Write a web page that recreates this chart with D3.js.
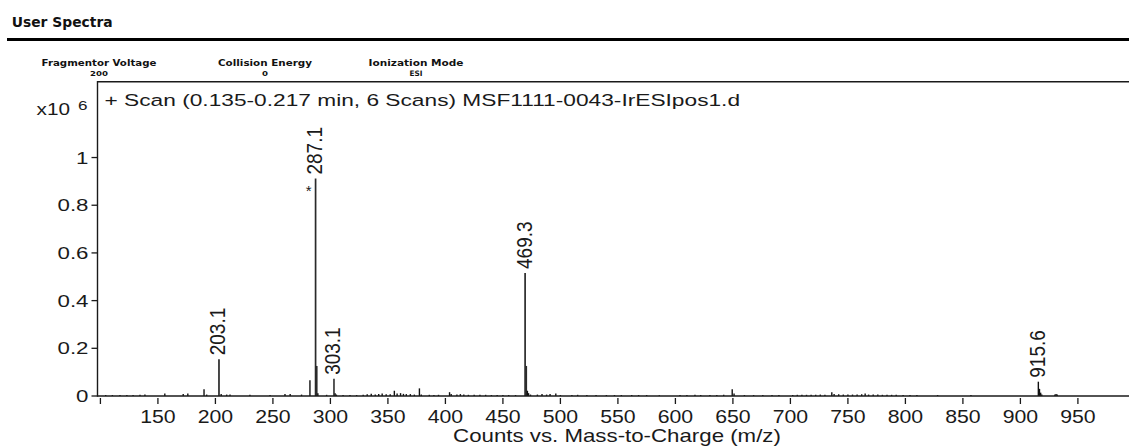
<!DOCTYPE html>
<html>
<head>
<meta charset="utf-8">
<script src="https://cdn.jsdelivr.net/npm/d3@7"></script>
<style>
  html, body { margin: 0; padding: 0; background: #fff; }
  svg { display: block; }
</style>
</head>
<body>
<svg id="chart" width="1129" height="447"></svg>
<script>
// ---------------- DATA ----------------
const headerTitle = "User Spectra";
const paramNames  = ["Fragmentor Voltage", "Collision Energy", "Ionization Mode"];
const paramValues = ["200", "0", "ESI"];
const scanTitle = "+ Scan (0.135-0.217 min, 6 Scans) MSF1111-0043-IrESIpos1.d";
const yExponentBase = "x10";
const yExponent = "6";
const xAxisTitle = "Counts vs. Mass-to-Charge (m/z)";

const yTicks = [0, 0.2, 0.4, 0.6, 0.8, 1];
const yTickLabels = ["0", "0.2", "0.4", "0.6", "0.8", "1"];
const xTicks = [100, 150, 200, 250, 300, 350, 400, 450, 500, 550, 600, 650, 700, 750, 800, 850, 900, 950];
const xTickLabels = ["", "150", "200", "250", "300", "350", "400", "450", "500", "550", "600", "650", "700", "750", "800", "850", "900", "950"];

// peak m/z values and intensities (x10^6 counts)
const peakMz = [
  104.6, 110.4, 117.0, 123.0, 128.4, 134.4, 138.7, 156.0, 172.0, 176.0,
  190.1, 192.4, 203.1, 205.0, 209.8, 212.7, 230.0, 247.5, 260.5, 265.0,
  274.9, 282.2, 287.1, 288.1, 289.1, 296.7, 303.1, 304.1, 305.2, 311.0,
  317.0, 322.8, 328.5, 332.0, 335.5, 339.0, 342.0, 345.0, 348.5, 352.0,
  355.6, 358.0, 361.0, 363.5, 366.0, 369.5, 373.0, 377.4, 379.0, 386.0,
  390.0, 394.0, 403.6, 405.0, 410.0, 413.0, 416.0, 420.0, 425.0, 430.0,
  435.0, 440.0, 445.0, 450.0, 455.0, 461.0, 469.3, 470.3, 471.3, 472.3,
  474.0, 480.0, 484.0, 488.0, 491.0, 496.0, 500.0, 510.0, 515.0, 523.0,
  531.0, 540.0, 547.0, 553.0, 562.0, 568.0, 575.0, 586.0, 604.0, 610.0,
  617.0, 622.0, 630.0, 636.0, 642.0, 649.4, 651.0, 660.0, 668.0, 676.0,
  684.0, 690.0, 702.0, 706.0, 710.0, 714.0, 718.0, 722.0, 726.0, 730.0,
  736.0, 738.0, 742.0, 746.0, 750.0, 754.0, 758.0, 762.0, 765.0, 768.0,
  772.0, 776.0, 780.0, 784.0, 788.0, 792.0, 798.0, 804.0, 810.0, 828.0,
  857.0, 915.6, 916.6, 917.6, 918.6, 930.0, 931.0, 932.0
];
const peakIntensity = [
  0.004, 0.004, 0.004, 0.004, 0.004, 0.005, 0.006, 0.010, 0.008, 0.010,
  0.028, 0.006, 0.154, 0.008, 0.006, 0.006, 0.005, 0.004, 0.008, 0.008,
  0.006, 0.066, 0.912, 0.126, 0.012, 0.005, 0.072, 0.012, 0.006, 0.004,
  0.004, 0.004, 0.005, 0.007, 0.009, 0.006, 0.008, 0.010, 0.007, 0.007,
  0.022, 0.010, 0.012, 0.009, 0.008, 0.008, 0.006, 0.032, 0.006, 0.005,
  0.004, 0.005, 0.016, 0.008, 0.006, 0.008, 0.006, 0.005, 0.005, 0.005,
  0.005, 0.004, 0.004, 0.004, 0.004, 0.004, 0.516, 0.126, 0.022, 0.012,
  0.006, 0.006, 0.008, 0.006, 0.008, 0.010, 0.004, 0.004, 0.005, 0.004,
  0.004, 0.004, 0.004, 0.004, 0.004, 0.004, 0.004, 0.003, 0.004, 0.004,
  0.005, 0.004, 0.004, 0.004, 0.005, 0.028, 0.010, 0.004, 0.004, 0.004,
  0.004, 0.004, 0.004, 0.005, 0.005, 0.005, 0.005, 0.005, 0.006, 0.005,
  0.016, 0.008, 0.007, 0.006, 0.006, 0.006, 0.006, 0.007, 0.010, 0.006,
  0.006, 0.006, 0.005, 0.005, 0.005, 0.005, 0.004, 0.004, 0.004, 0.004,
  0.004, 0.060, 0.030, 0.014, 0.006, 0.006, 0.008, 0.006
];

// labelled peaks
const labelMz = [203.1, 287.1, 303.1, 469.3, 915.6];
const labelText = ["203.1", "287.1", "303.1", "469.3", "915.6"];
const labelStar = [false, true, false, false, false];

// ---------------- CHART ----------------
const svg = d3.select("#chart");
const font = "'Liberation Sans', Arial, sans-serif";
const boldFont = "'DejaVu Sans', Verdana, sans-serif";
const ink = "#1a1a1a";

// places text so that its measured width matches target (horizontal stretch)
function fitText(sel, x, y, target, anchor) {
  const len = sel.node().getComputedTextLength();
  const sx = target / len;
  sel.attr("text-anchor", anchor || "start")
     .attr("transform", `translate(${x},${y}) scale(${sx},1)`);
  return sx;
}

// Header
fitText(svg.append("text").text(headerTitle)
  .attr("font-family", boldFont).attr("font-weight", "bold")
  .attr("font-size", 14).attr("fill", "#111"), 11.7, 27, 101);

svg.append("line").attr("x1", 7).attr("x2", 1129).attr("y1", 39.5).attr("y2", 39.5)
  .attr("stroke", "#000").attr("stroke-width", 3.2);

const paramCx = [99, 265, 416];
const paramW = [115, 94, 95];
const valW = [18, 6, 13];
paramNames.forEach((n, i) => {
  fitText(svg.append("text").text(n)
    .attr("font-family", boldFont).attr("font-weight", "bold")
    .attr("font-size", 9.5).attr("fill", "#111"), paramCx[i], 66, paramW[i], "middle");
  fitText(svg.append("text").text(paramValues[i])
    .attr("font-family", boldFont).attr("font-weight", "bold")
    .attr("font-size", 7.5).attr("fill", "#111"), paramCx[i], 76, valW[i], "middle");
});

// Scales
const x = d3.scaleLinear().domain([97.9, 1004]).range([98, 1140]);
const y = d3.scaleLinear().domain([0, 1.318]).range([396, 81.7]);

// Frame
svg.append("line").attr("x1", 97.5).attr("x2", 1140).attr("y1", 81.7).attr("y2", 81.7)
  .attr("stroke", ink).attr("stroke-width", 1.4);
svg.append("line").attr("x1", 97.5).attr("x2", 97.5).attr("y1", 81).attr("y2", 396.7)
  .attr("stroke", ink).attr("stroke-width", 1.4);

// Peaks
const peaks = peakMz.map((m, i) => ({ mz: m, v: peakIntensity[i] }));
svg.append("g").selectAll("line").data(peaks).join("line")
  .attr("x1", d => x(d.mz)).attr("x2", d => x(d.mz))
  .attr("y1", y(0)).attr("y2", d => y(d.v))
  .attr("stroke", d => d.v > 0.1 ? "#2a2a2a" : "#111")
  .attr("stroke-width", d => d.v > 0.1 ? 1.7 : 1.4);

// Bottom axis line
svg.append("line").attr("x1", 97.5).attr("x2", 1140).attr("y1", 396).attr("y2", 396)
  .attr("stroke", ink).attr("stroke-width", 1.6);

// Y ticks
const yg = svg.append("g");
yTicks.forEach((t, i) => {
  yg.append("line").attr("x1", 91.5).attr("x2", 97.5).attr("y1", y(t)).attr("y2", y(t))
    .attr("stroke", ink).attr("stroke-width", 1.3);
});
// measure stretch on "0.8"
const probe = svg.append("text").text("0.8").attr("font-family", font).attr("font-size", 17);
const ySx = 31 / probe.node().getComputedTextLength();
probe.remove();
yTicks.forEach((t, i) => {
  yg.append("text").text(yTickLabels[i])
    .attr("font-family", font).attr("font-size", 17).attr("fill", ink)
    .attr("text-anchor", "end")
    .attr("transform", `translate(88.5,${y(t) + 6}) scale(${ySx},1)`);
});

// X ticks
const probe2 = svg.append("text").text("150").attr("font-family", font).attr("font-size", 17.5);
const xSx = 35.5 / probe2.node().getComputedTextLength();
probe2.remove();
const xg = svg.append("g");
xTicks.forEach((t, i) => {
  xg.append("line").attr("x1", x(t)).attr("x2", x(t)).attr("y1", 398).attr("y2", 404)
    .attr("stroke", ink).attr("stroke-width", 1.3);
  if (xTickLabels[i]) {
    xg.append("text").text(xTickLabels[i])
      .attr("font-family", font).attr("font-size", 17.5).attr("fill", ink)
      .attr("text-anchor", "middle")
      .attr("transform", `translate(${x(t)},423) scale(${xSx},1)`);
  }
});

// Axis title
fitText(svg.append("text").text(xAxisTitle)
  .attr("font-family", font).attr("font-size", 17.5).attr("fill", ink), 617, 442, 328, "middle");

// Scan title
fitText(svg.append("text").text(scanTitle)
  .attr("font-family", font).attr("font-size", 16.5).attr("fill", ink), 104.5, 105.7, 636);

// exponent
fitText(svg.append("text").text(yExponentBase)
  .attr("font-family", font).attr("font-size", 16.5).attr("fill", ink), 36.5, 115, 33.5);
fitText(svg.append("text").text(yExponent)
  .attr("font-family", font).attr("font-size", 13).attr("fill", ink), 78, 109.5, 9.5);

// Peak labels
labelMz.forEach((m, i) => {
  const idx = peakMz.indexOf(m);
  const top = y(peakIntensity[idx]);
  const px = x(m);
  svg.append("text").text(labelText[i])
    .attr("font-family", font).attr("font-size", 19).attr("fill", ink)
    .attr("text-anchor", "start")
    .attr("transform", `translate(${px + 6.5},${top - 4}) rotate(-90) scale(1,1.2)`);
  if (labelStar[i]) {
    svg.append("text").text("*")
      .attr("font-family", font).attr("font-size", 15).attr("fill", ink)
      .attr("text-anchor", "middle")
      .attr("x", px - 7).attr("y", top + 17.5);
  }
});
</script>
</body>
</html>
